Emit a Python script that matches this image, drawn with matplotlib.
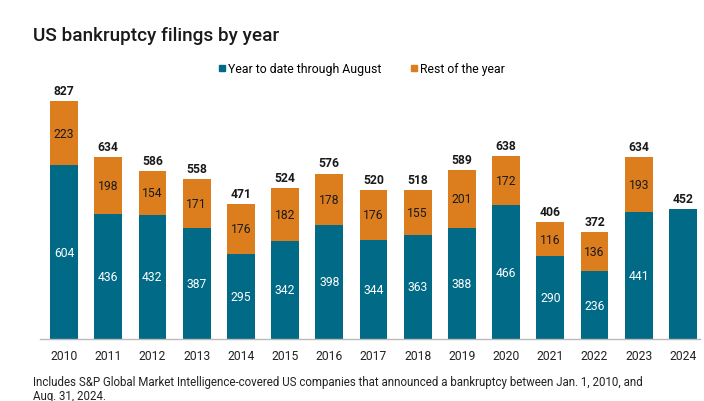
import matplotlib.pyplot as plt
from matplotlib.lines import Line2D
import numpy as np

plt.rcParams['font.family'] = ['Roboto', 'DejaVu Sans']

years = ['2010', '2011', '2012', '2013', '2014', '2015', '2016', '2017',
         '2018', '2019', '2020', '2021', '2022', '2023', '2024']
ytd_aug = [604, 436, 432, 387, 295, 342, 398, 344, 363, 388, 466, 290, 236, 441, 452]
rest_year = [223, 198, 154, 171, 176, 182, 178, 176, 155, 201, 172, 116, 136, 193, 0]

teal = '#006a87'
orange = '#dc7d1e'

fig = plt.figure(figsize=(7.04, 4.02), dpi=100)
ax = fig.add_axes([40 / 704, 1 - 340 / 402, 660 / 704, 260 / 402])

x = np.arange(len(years))
w = 0.63
ax.bar(x, ytd_aug, width=w, color=teal)
ax.bar(x, rest_year, width=w, bottom=ytd_aug, color=orange)

for i in range(len(years)):
    a, b = ytd_aug[i], rest_year[i]
    total = a + b
    ax.text(x[i], total + 14, str(total), ha='center', va='bottom',
            fontsize=8.7, fontweight='bold', color='#1a1a1a')
    if b > 0:
        ax.text(x[i], a / 2, str(a), ha='center', va='center', fontsize=8.7, color='white')
        ax.text(x[i], a + b / 2, str(b), ha='center', va='center', fontsize=8.7, color='#1a1a1a')

ax.set_xlim(-0.543, 14.385)
ax.set_ylim(0, 905)
ax.set_xticks(x)
ax.set_xticklabels(years, fontsize=8.7, color='#222222')
ax.tick_params(axis='x', length=0, pad=7)
ax.set_yticks([])
for s in ['top', 'right', 'left']:
    ax.spines[s].set_visible(False)
ax.spines['bottom'].set_color('#bbbbbb')
ax.spines['bottom'].set_linewidth(1)

fig.text(33 / 704, 1 - 36 / 402, 'US bankruptcy filings by year', fontsize=13.7,
         fontweight='medium', color='#1a1a1a', va='center', ha='left')

handles = [Line2D([], [], marker='s', ls='', color=teal, markersize=5),
           Line2D([], [], marker='s', ls='', color=orange, markersize=5)]
fig.legend(handles, ['Year to date through August', 'Rest of the year'],
           loc='center', bbox_to_anchor=(361 / 704, 1 - 70 / 402), ncol=2,
           frameon=False, fontsize=8.8, handletextpad=0.1, columnspacing=2.2,
           handlelength=0.8)

fig.text(33 / 704, 1 - 383 / 402,
         'Includes S&P Global Market Intelligence-covered US companies that announced a bankruptcy between Jan. 1, 2010, and',
         fontsize=8.3, color='#222222', va='center', ha='left')
fig.text(33 / 704, 1 - 397 / 402, 'Aug. 31, 2024.', fontsize=8.3, color='#222222',
         va='center', ha='left')

fig.savefig('out.png', dpi=100)
